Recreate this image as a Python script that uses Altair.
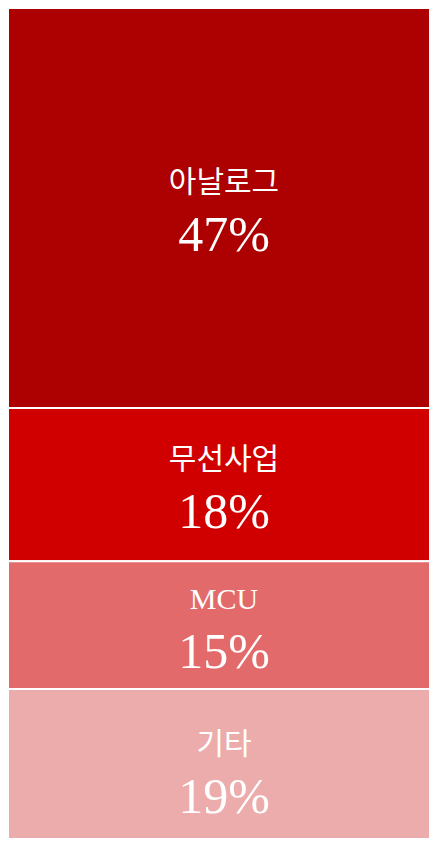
import altair as alt
import pandas as pd

categories = ["아날로그", "무선사업", "MCU", "기타"]
values = [47, 18, 15, 19]
labels = ["47%", "18%", "15%", "19%"]
colors = ["#AD0000", "#D10000", "#E36A6A", "#ECACAC"]

df = pd.DataFrame({
    "category": categories,
    "value": values,
    "pct": labels,
    "rank": list(range(len(categories))),
})

W, H = 422, 830

# the bottom segment runs past the lower edge of the frame, as in the reference
yscale = alt.Scale(domain=[0, 97.5], reverse=True, nice=False, zero=True)
cscale = alt.Scale(domain=categories, range=colors)

base = alt.Chart(df).transform_stack(
    stack="value", as_=["y0", "y1"], groupby=[], sort=[alt.SortField("rank", order="ascending")]
).transform_calculate(mid="(datum.y0 + datum.y1) / 2")

bars = base.mark_rect(stroke="white", strokeWidth=2, clip=True).encode(
    x=alt.value(0),
    x2=alt.value(W),
    y=alt.Y("y0:Q", scale=yscale, axis=None),
    y2="y1:Q",
    color=alt.Color("category:N", scale=cscale, legend=None),
)

names = base.mark_text(
    color="white", font="Liberation Serif, Noto Sans CJK KR", fontSize=30, dy=-16,
    baseline="alphabetic", align="center",
).encode(
    x=alt.value(W / 2 + 5),
    y=alt.Y("mid:Q", scale=yscale, axis=None),
    text="category:N",
)

pcts = base.mark_text(
    color="white", font="Liberation Serif", fontSize=50, dy=43,
    baseline="alphabetic", align="center",
).encode(
    x=alt.value(W / 2 + 5),
    y=alt.Y("mid:Q", scale=yscale, axis=None),
    text="pct:N",
)

chart = alt.layer(bars, names, pcts).properties(
    width=W, height=H, padding=0, autosize=alt.AutoSizeParams(type="none")
).configure_view(stroke=None)

chart.save("out.html", embed_options={"renderer": "svg", "actions": False})
